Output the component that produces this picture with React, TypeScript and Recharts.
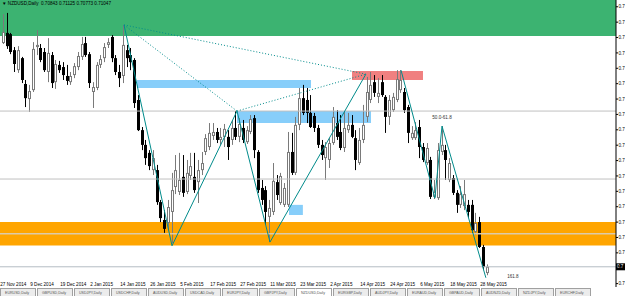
import {
  ComposedChart,
  Bar,
  XAxis,
  YAxis,
  ReferenceArea,
  ReferenceLine,
  ReferenceDot,
} from "recharts"

// NZDUSD daily, 27 Nov 2014 .. 29 May 2015 (one entry per trading day)
const opens = [
  0.7832, 0.7865, 0.7861, 0.7809, 0.7744, 0.7783, 0.7699, 0.765, 0.7679, 0.7819,
  0.7816, 0.7803, 0.7738, 0.7793, 0.7705, 0.7761, 0.7754, 0.7725, 0.7705, 0.7728,
  0.7754, 0.7787, 0.7832, 0.7796, 0.7673, 0.7686, 0.7761, 0.7783, 0.7826, 0.7852,
  0.7783, 0.7738, 0.7725, 0.7809, 0.7793, 0.7777, 0.7647, 0.7549, 0.7501, 0.7475,
  0.7419, 0.7419, 0.7315, 0.7257, 0.7247, 0.7283, 0.7364, 0.7348, 0.7397, 0.7348,
  0.74, 0.7397, 0.738, 0.7419, 0.7478, 0.7494, 0.753, 0.7543, 0.7517, 0.7527,
  0.7527, 0.7517, 0.7556, 0.7527, 0.7556, 0.751, 0.7543, 0.7588, 0.7478, 0.7361,
  0.7354, 0.7267, 0.7283, 0.738, 0.7312, 0.7306, 0.7306, 0.7478, 0.741, 0.7566,
  0.7653, 0.7647, 0.7605, 0.7595, 0.7556, 0.7501, 0.7458, 0.7452, 0.7507, 0.7572,
  0.7543, 0.7491, 0.7549, 0.7566, 0.7523, 0.7442, 0.7517, 0.7592, 0.7647, 0.7705,
  0.7657, 0.7705, 0.7657, 0.7592, 0.7614, 0.7647, 0.7679, 0.7673, 0.7624, 0.7523,
  0.7523, 0.7559, 0.7494, 0.7442, 0.7452, 0.7332, 0.7328, 0.7478, 0.7484, 0.7387,
  0.7393, 0.7345, 0.7306, 0.7302, 0.7306, 0.7306, 0.7218, 0.725, 0.7169, 0.70843,
]
const highs = [
  0.7926, 0.793, 0.7865, 0.7819, 0.7822, 0.7787, 0.7712, 0.7696, 0.7835, 0.7874,
  0.7829, 0.7816, 0.7848, 0.7803, 0.7777, 0.7774, 0.777, 0.7761, 0.7738, 0.7767,
  0.7803, 0.7852, 0.7852, 0.7803, 0.7705, 0.777, 0.7793, 0.7832, 0.7848, 0.7858,
  0.7793, 0.7761, 0.7891, 0.7826, 0.7816, 0.7783, 0.7663, 0.7559, 0.7517, 0.7484,
  0.7484, 0.7436, 0.7322, 0.7289, 0.7322, 0.741, 0.7468, 0.7475, 0.7468, 0.7452,
  0.7475, 0.7475, 0.7452, 0.7478, 0.7536, 0.7572, 0.7572, 0.7556, 0.7556, 0.7569,
  0.7549, 0.7582, 0.7611, 0.7588, 0.7582, 0.7562, 0.7598, 0.7598, 0.7484, 0.7387,
  0.7367, 0.7322, 0.7442, 0.7403, 0.741, 0.7377, 0.7543, 0.754, 0.7592, 0.7686,
  0.7696, 0.7686, 0.7663, 0.7605, 0.7566, 0.7517, 0.751, 0.7523, 0.7624, 0.7614,
  0.7598, 0.7608, 0.7605, 0.7598, 0.7549, 0.7556, 0.7631, 0.7722, 0.7738, 0.7728,
  0.7718, 0.7728, 0.7663, 0.7663, 0.767, 0.7744, 0.7744, 0.7686, 0.7631, 0.7562,
  0.7575, 0.7582, 0.7507, 0.7507, 0.7462, 0.7387, 0.7507, 0.7562, 0.7501, 0.7458,
  0.7403, 0.7354, 0.7367, 0.7387, 0.7322, 0.7322, 0.728, 0.7267, 0.7176, 0.71125,
]
const lows = [
  0.7829, 0.7813, 0.7796, 0.7738, 0.7735, 0.7702, 0.7624, 0.7608, 0.7673, 0.7793,
  0.777, 0.7738, 0.7705, 0.7686, 0.7683, 0.7735, 0.7712, 0.7696, 0.7696, 0.7718,
  0.7744, 0.7777, 0.7787, 0.7686, 0.7621, 0.7679, 0.7751, 0.777, 0.7816, 0.777,
  0.7728, 0.7689, 0.7702, 0.7754, 0.7744, 0.7621, 0.7546, 0.7484, 0.7436, 0.7419,
  0.7403, 0.7306, 0.725, 0.7215, 0.7224, 0.7182, 0.7341, 0.7338, 0.7332, 0.7341,
  0.7387, 0.7345, 0.7312, 0.7403, 0.7468, 0.7484, 0.7517, 0.7507, 0.7501, 0.7494,
  0.7452, 0.7501, 0.7517, 0.751, 0.7507, 0.7504, 0.7536, 0.7458, 0.7345, 0.7306,
  0.7241, 0.7185, 0.7273, 0.7322, 0.7306, 0.7299, 0.7299, 0.7403, 0.7403, 0.7549,
  0.7598, 0.7572, 0.7556, 0.7543, 0.7491, 0.7452, 0.7387, 0.7426, 0.7501, 0.7517,
  0.7484, 0.7478, 0.754, 0.7523, 0.7419, 0.7436, 0.7507, 0.7575, 0.7637, 0.7657,
  0.7637, 0.7657, 0.754, 0.7566, 0.7608, 0.764, 0.767, 0.7605, 0.7507, 0.7517,
  0.7517, 0.7458, 0.7445, 0.7436, 0.7325, 0.7325, 0.7322, 0.7468, 0.7387, 0.738,
  0.7338, 0.728, 0.7296, 0.7289, 0.7263, 0.7215, 0.7208, 0.7166, 0.7094, 0.70773,
]
const closes = [
  0.7868, 0.7822, 0.7803, 0.7764, 0.7809, 0.7712, 0.7653, 0.7676, 0.7813, 0.7826,
  0.7777, 0.7744, 0.78, 0.7702, 0.7764, 0.7744, 0.7728, 0.7709, 0.7725, 0.7757,
  0.779, 0.7829, 0.7793, 0.7702, 0.7689, 0.7761, 0.778, 0.7819, 0.7835, 0.7783,
  0.7738, 0.7718, 0.7826, 0.7783, 0.777, 0.7637, 0.7549, 0.7501, 0.7458, 0.7432,
  0.7458, 0.7315, 0.7263, 0.7228, 0.7299, 0.7354, 0.7419, 0.7387, 0.7345, 0.741,
  0.7432, 0.7354, 0.7419, 0.7442, 0.7523, 0.754, 0.7543, 0.7517, 0.7527, 0.7553,
  0.7494, 0.7556, 0.7527, 0.7569, 0.7517, 0.7549, 0.7585, 0.7484, 0.7354, 0.7322,
  0.7283, 0.7296, 0.7384, 0.7338, 0.74, 0.7361, 0.7478, 0.741, 0.7566, 0.7653,
  0.7605, 0.7605, 0.7559, 0.7556, 0.7501, 0.7468, 0.7494, 0.7507, 0.7592, 0.7527,
  0.7491, 0.7556, 0.7566, 0.7527, 0.7452, 0.7517, 0.7566, 0.7673, 0.7696, 0.767,
  0.767, 0.7663, 0.7592, 0.7647, 0.7657, 0.7715, 0.7712, 0.7614, 0.754, 0.754,
  0.7549, 0.7494, 0.7452, 0.7491, 0.7332, 0.7348, 0.7484, 0.7501, 0.7452, 0.7442,
  0.7345, 0.7306, 0.7341, 0.7341, 0.7283, 0.7224, 0.7247, 0.7169, 0.7104, 0.71047,
]

// one label every 8 bars
const dateLabels = [
  "27 Nov 2014", "9 Dec 2014", "19 Dec 2014", "2 Jan 2015", "14 Jan 2015",
  "26 Jan 2015", "5 Feb 2015", "17 Feb 2015", "27 Feb 2015", "11 Mar 2015",
  "23 Mar 2015", "2 Apr 2015", "14 Apr 2015", "24 Apr 2015", "6 May 2015",
  "18 May 2015", "28 May 2015",
]
const dateTickIdx = [0, 8, 16, 24, 32, 40, 48, 56, 64, 72, 80, 88, 96, 104, 112, 120, 128]

const priceTicks = [
  0.705, 0.71, 0.715, 0.72, 0.725, 0.73, 0.735, 0.74, 0.745, 0.75,
  0.755, 0.76, 0.765, 0.77, 0.775, 0.78, 0.785, 0.79, 0.795,
]

const lastQuote = { open: 0.70843, high: 0.71125, low: 0.70773, close: 0.71047 }

const tabNames = [
  "EURUSD,Daily", "GBPUSD,Daily", "USDJPY,Daily", "USDCHF,Daily", "AUDUSD,Daily",
  "USDCAD,Daily", "EURJPY,Daily", "GBPJPY,Daily", "NZDUSD,Daily", "EURGBP,Daily",
  "AUDJPY,Daily", "EURAUD,Daily", "GBPAUD,Daily", "AUDNZD,Daily", "NZDJPY,Daily",
  "EURCHF,Daily",
]

const data = opens.map((o, i) => ({
  i,
  open: o,
  high: highs[i],
  low: lows[i],
  close: closes[i],
  range: [lows[i], highs[i]],
}))

const FONT = "'Liberation Sans', Arial, sans-serif"
const TEAL = "#008b8b"

// the price column is only ~8px wide, so only the leading "0.7" shows
const shortPrice = (v: number) => v.toFixed(5).slice(0, 3)

function Candle(props: any) {
  const { x, y, width, height, payload } = props
  const { open, close, high, low } = payload
  const k = height / (high - low || 1e-9)
  const px = Math.round(x + width / 2)
  const yO = y + (high - open) * k
  const yC = y + (high - close) * k
  const up = close >= open
  const top = Math.min(yO, yC)
  const h = Math.max(Math.abs(yO - yC), 1)
  const col = up ? "#7a7a7a" : "#000"
  return (
    <g>
      <rect x={px} y={y} width={1} height={height} fill={col} />
      <rect x={px - 1} y={top} width={3} height={h} fill={col} />
      {up && h > 2 && <rect x={px} y={top + 1} width={1} height={h - 2} fill="#fff" />}
    </g>
  )
}

function DateTick(props: any) {
  const { x, payload } = props
  const label = dateLabels[dateTickIdx.indexOf(payload.value)]
  return (
    <text x={x - 3} y={285.5} fontSize={4.6} fontFamily={FONT} fill="#000" textAnchor="start">
      {label}
    </text>
  )
}

function PriceTick(props: any) {
  const { x, y, payload } = props
  return (
    <text x={x + 0.5} y={y + 1.6} fontSize={4.6} fontFamily={FONT} fill="#000" textAnchor="start">
      {shortPrice(payload.value)}
    </text>
  )
}

function BidLabel(props: any) {
  const { viewBox } = props
  const x = viewBox.x + viewBox.width
  return (
    <g>
      <rect x={x} y={viewBox.y - 3.5} width={9} height={7} fill="#000" />
      <text x={x + 1} y={viewBox.y + 1.6} fontSize={4.6} fontFamily={FONT} fill="#fff">
        {shortPrice(lastQuote.close)}
      </text>
    </g>
  )
}

export default function App() {
  return (
    <div style={{ position: "relative", width: 625, height: 296, overflow: "hidden", background: "#fff" }}>
      <style>{`body{margin:0}`}</style>
      <ComposedChart width={625} height={296} data={data} margin={{ top: 0, right: 0, bottom: 0, left: 0 }}>
        <XAxis
          dataKey="i"
          type="number"
          domain={[-0.867, 163.4]}
          allowDataOverflow
          ticks={dateTickIdx}
          tick={<DateTick />}
          tickLine={false}
          axisLine={false}
          height={9}
          interval={0}
        />
        <YAxis
          orientation="right"
          type="number"
          domain={[0.7039, 0.7972]}
          allowDataOverflow
          ticks={priceTicks}
          tick={<PriceTick />}
          tickSize={2}
          tickMargin={0}
          tickLine={{ stroke: "#000" }}
          axisLine={{ stroke: "#000" }}
          width={9}
          interval={0}
        />

        {/* zones */}
        <ReferenceArea y1={0.7855} y2={0.7972} fill="#3cb371" fillOpacity={1} stroke="none" />
        <ReferenceArea y1={0.7174} y2={0.725} fill="#ffa500" fillOpacity={1} stroke="none" />
        <ReferenceArea x1={35.67} x2={82.07} y1={0.7686} y2={0.7712} fill="#87cefa" fillOpacity={1} stroke="none" />
        <ReferenceArea x1={62.33} x2={98.07} y1={0.7572} y2={0.7611} fill="#87cefa" fillOpacity={1} stroke="none" />
        <ReferenceArea x1={76.2} x2={79.9} y1={0.7273} y2={0.7306} fill="#87cefa" fillOpacity={1} stroke="none" />
        <ReferenceArea x1={93.0} x2={111.93} y1={0.7712} y2={0.7741} fill="#f08080" fillOpacity={1} stroke="none" />

        {/* horizontal levels */}
        <ReferenceLine y={0.7611} stroke="#c0c0c0" />
        <ReferenceLine y={0.739} stroke="#c0c0c0" />
        <ReferenceLine y={0.7212} stroke="#dccbaa" strokeWidth={1.5} />
        <ReferenceLine y={lastQuote.close} stroke="#b4bcc4" label={<BidLabel />} />

        <Bar dataKey="range" shape={<Candle />} barSize={3} isAnimationActive={false} />

        {/* harmonic pattern lines */}
        <ReferenceLine segment={[{ x: 32.2, y: 0.7891 }, { x: 96.7, y: 0.7731 }]} stroke={TEAL} strokeDasharray="1 2" />
        <ReferenceLine segment={[{ x: 32.2, y: 0.7891 }, { x: 62.33, y: 0.7611 }]} stroke={TEAL} strokeDasharray="1 2" />
        <ReferenceLine segment={[{ x: 62.33, y: 0.7611 }, { x: 96.7, y: 0.7731 }]} stroke={TEAL} strokeDasharray="1 2" />
        <ReferenceLine segment={[{ x: 32.2, y: 0.7891 }, { x: 45.0, y: 0.7173 }]} stroke={TEAL} />
        <ReferenceLine segment={[{ x: 45.0, y: 0.7173 }, { x: 62.33, y: 0.7611 }]} stroke={TEAL} />
        <ReferenceLine segment={[{ x: 62.33, y: 0.7611 }, { x: 71.13, y: 0.7185 }]} stroke={TEAL} />
        <ReferenceLine segment={[{ x: 71.13, y: 0.7185 }, { x: 96.7, y: 0.7731 }]} stroke={TEAL} />
        <ReferenceLine segment={[{ x: 106.07, y: 0.7744 }, { x: 115.1, y: 0.7328 }]} stroke={TEAL} />
        <ReferenceLine segment={[{ x: 115.1, y: 0.7328 }, { x: 117.0, y: 0.7562 }]} stroke={TEAL} />
        <ReferenceLine segment={[{ x: 117.0, y: 0.7562 }, { x: 128.7, y: 0.7069 }]} stroke={TEAL} />

        <ReferenceDot
          x={117.0}
          y={0.7592}
          r={0}
          label={{ value: "50.0-61.8", fontSize: 4.6, fontFamily: FONT, fill: "#333", position: "center" }}
        />
        <ReferenceDot
          x={135.9}
          y={0.7075}
          r={0}
          label={{ value: "161.8", fontSize: 4.6, fontFamily: FONT, fill: "#333", position: "center" }}
        />
      </ComposedChart>

      <div
        style={{
          position: "absolute",
          left: 2,
          top: 2,
          fontFamily: FONT,
          fontSize: 4.6,
          lineHeight: 1,
          color: "#000",
          whiteSpace: "nowrap",
        }}
      >
        ▼ NZDUSD,Daily&nbsp; {lastQuote.open.toFixed(5)} {lastQuote.high.toFixed(5)} {lastQuote.low.toFixed(5)}{" "}
        {lastQuote.close.toFixed(5)}
      </div>

      <div style={{ position: "absolute", left: 0, top: 288, width: 625, height: 8, display: "flex", gap: 1.5 }}>
        {tabNames.map((t, idx) => (
          <div
            key={t}
            style={{
              width: 35.5,
              height: 8,
              boxSizing: "border-box",
              border: "1px solid #a0a0a0",
              borderBottom: "none",
              background: idx === 8 ? "#fff" : "#ececec",
              fontFamily: FONT,
              fontSize: 3.6,
              color: "#555",
              paddingLeft: 4,
              paddingTop: 1.5,
              whiteSpace: "nowrap",
              overflow: "hidden",
            }}
          >
            {t}
          </div>
        ))}
      </div>
    </div>
  )
}
